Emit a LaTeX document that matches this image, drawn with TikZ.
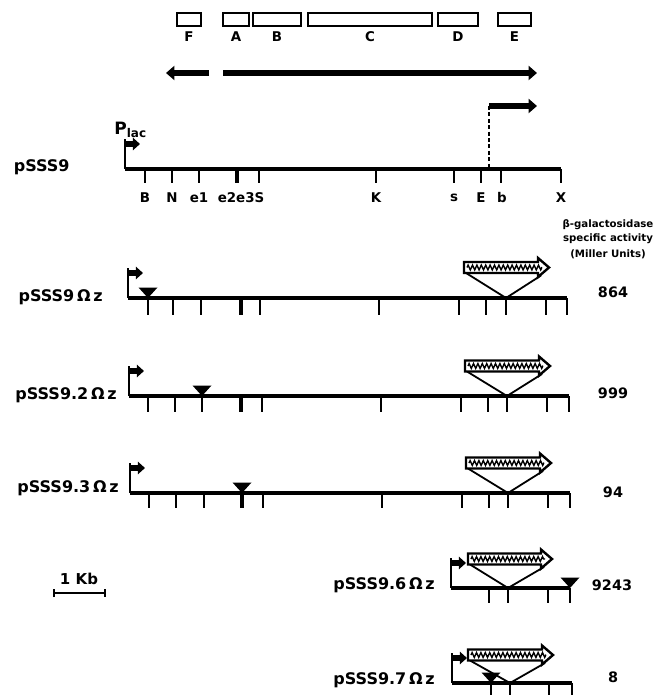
\documentclass[tikz,border=0pt]{standalone}
\usepackage{fontspec}
\setmainfont{DejaVu Sans}
\usetikzlibrary{arrows.meta,decorations.pathmorphing}

\tikzset{
  backbone/.style={line width=1.6pt},
  site/.style={line width=1pt},
  bigsite/.style={line width=2.2pt},
  orfbox/.style={line width=1.1pt},
  tx/.style={line width=3.3pt, -{Triangle[length=4.2pt,width=7pt]}},
  plac/.style={line width=2.6pt, -{Triangle[length=3.6pt,width=6.2pt]}},
  vee/.style={line width=0.9pt},
  rowlbl/.style={font=\bfseries\fontsize{8}{9}\selectfont, inner sep=0pt},
  sitelbl/.style={font=\bfseries\fontsize{6.7}{7}\selectfont, inner sep=0pt},
  actlbl/.style={font=\bfseries\fontsize{7.2}{8}\selectfont, inner sep=0pt},
  headlbl/.style={font=\bfseries\fontsize{5.1}{6}\selectfont, inner sep=0pt}
}

% bent promoter arrow: x, line y
\newcommand{\promoter}[2]{%
  \draw[line width=0.9pt] (#1,#2) -- (#1,#2-30);
  \draw[plac] (#1-0.5,#2-25) -- (#1+15,#2-25);}

% lacZ cassette: left x, tip x, mid y, apex x, line y
\newcommand{\lacZ}[5]{%
  \draw[vee] (#1+2,#3+5.5) -- (#4,#5) -- (#2-8,#3+8);
  \draw[line width=1.2pt, fill=white] (#1,#3-5.5) -- (#2-11,#3-5.5) -- (#2-11,#3-9.5)
    -- (#2,#3) -- (#2-11,#3+9.5) -- (#2-11,#3+5.5) -- (#1,#3+5.5) -- cycle;
  \draw[line width=0.7pt, decorate, decoration={zigzag, amplitude=1.2pt, segment length=2.2pt}]
    (#1+3,#3) -- (#2-7,#3);}

% omega insertion: x, line y
\newcommand{\omegains}[2]{%
  \fill (#1-9.5,#2-10.5) -- (#1+9.5,#2-10.5) -- (#1,#2) -- cycle;}

\begin{document}
\begin{tikzpicture}[x=0.5pt, y=-0.5pt]
  \useasboundingbox (0,0) rectangle (665,695);

  % open reading frames
  \foreach \a/\b/\n in {177/201/F, 223/249/A, 253/301/B, 308/432/C, 438/478/D, 498/531/E} {
    \draw[orfbox] (\a,13) rectangle (\b,26);
    \node[sitelbl] (orf\n) at ({(\a+\b)/2},37) {\n};
  }

  % transcripts
  \draw[tx] (209,73) -- (166,73);
  \draw[tx] (223,73) -- (537,73);
  \coordinate (tstart) at (489,106);
  \coordinate (tend) at (537,106);
  \draw[tx] (tstart) -- (tend);
  \draw[line width=0.7pt, dash pattern=on 2pt off 1.2pt] (tstart) -- (489,169);

  % pSSS9
  \node[font=\bfseries\fontsize{8.5}{9}\selectfont, inner sep=0pt, anchor=west] (plac) at (114,130)
    {P\raisebox{-1.8pt}{\fontsize{6}{6}\selectfont lac}};
  \node[rowlbl, anchor=east] (p9) at (70,167) {pSSS9};
  \promoter{125}{169}
  \draw[backbone] (125,169) -- (561,169);
  \foreach \x in {145,172,199,259,376,454,481,501,561}
    \draw[site] (\x,169) -- (\x,183);
  \draw[bigsite] (237,169) -- (237,183);
  \foreach \x/\n in {145/B, 172/N, 199/e1, 241/e2e3S, 376/K, 454/s, 481/E, 502/b, 561/X}
    \node[sitelbl] (site\n) at (\x,198) {\n};

  % activity header
  \node[headlbl] (hd1) at (608,225) {β-galactosidase};
  \node[headlbl] (hd2) at (608,239) {specific activity};
  \node[headlbl] (hd3) at (608,254) {(Miller Units)};

  % pSSS9 Omega z
  \node[rowlbl, anchor=east] (p90) at (103,297) {pSSS9\,Ω\,z};
  \promoter{128}{298}
  \draw[backbone] (128,298) -- (567,298);
  \foreach \x in {148,173,201,260,379,459,486,506,546,567}
    \draw[site] (\x,298) -- (\x,315);
  \draw[bigsite] (241,298) -- (241,315);
  \omegains{148}{298}
  \lacZ{464}{549}{267.5}{506}{298}
  \node[actlbl] (a90) at (613,292) {864};

  % pSSS9.2 Omega z
  \node[rowlbl, anchor=east] (p92) at (117,395) {pSSS9.2\,Ω\,z};
  \promoter{129}{396}
  \draw[backbone] (129,396) -- (569,396);
  \foreach \x in {148,175,202,262,381,461,488,507,547,569}
    \draw[site] (\x,396) -- (\x,412);
  \draw[bigsite] (241,396) -- (241,412);
  \omegains{202}{396}
  \lacZ{465}{550}{366}{507}{396}
  \node[actlbl] (a92) at (613,393) {999};

  % pSSS9.3 Omega z
  \node[rowlbl, anchor=east] (p93) at (119,488) {pSSS9.3\,Ω\,z};
  \promoter{130}{493}
  \draw[backbone] (130,493) -- (570,493);
  \foreach \x in {149,176,204,263,382,462,489,508,548,570}
    \draw[site] (\x,493) -- (\x,508);
  \draw[bigsite] (242,493) -- (242,508);
  \omegains{242}{493}
  \lacZ{466}{551}{463}{508}{493}
  \node[actlbl] (a93) at (613,492) {94};

  % scale bar
  \coordinate (kb1) at (53,593);
  \coordinate (kb2) at (106,593);
  \draw[line width=1.1pt, {Bar[width=4pt]}-{Bar[width=4pt]}] (kb1) -- (kb2);
  \node[font=\bfseries\fontsize{7.5}{9}\selectfont, inner sep=0pt] (kb) at (79,579) {1 Kb};

  % pSSS9.6 Omega z
  \node[rowlbl, anchor=east] (p96) at (435,585) {pSSS9.6\,Ω\,z};
  \promoter{451}{588}
  \draw[backbone] (451,588) -- (570,588);
  \foreach \x in {489,508,548,570}
    \draw[site] (\x,588) -- (\x,603);
  \omegains{570}{588}
  \lacZ{468}{552}{559}{508}{588}
  \node[actlbl] (a96) at (612,585) {9243};

  % pSSS9.7 Omega z
  \node[rowlbl, anchor=east] (p97) at (435,680) {pSSS9.7\,Ω\,z};
  \promoter{452}{683}
  \draw[backbone] (452,683) -- (572,683);
  \foreach \x in {491,510,549,572}
    \draw[site] (\x,683) -- (\x,698);
  \lacZ{468}{553}{655}{510}{683}
  \omegains{491}{683}
  \node[actlbl] (a97) at (613,677) {8};
\end{tikzpicture}
\end{document}
